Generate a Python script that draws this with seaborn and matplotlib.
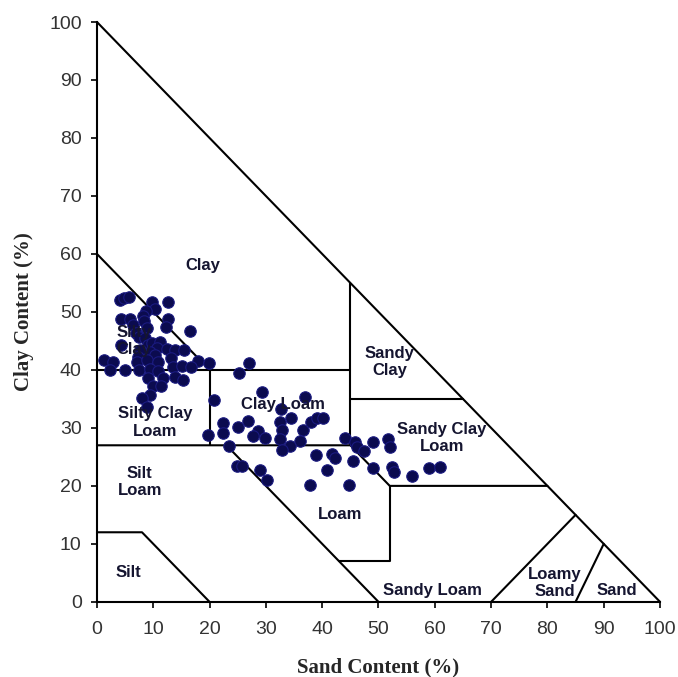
import numpy as np
import pandas as pd
import matplotlib
matplotlib.use("Agg")
import matplotlib.pyplot as plt
import seaborn as sns

# sample points (sand %, clay %)
sand = [4.1, 4.8, 5.7, 9.8, 12.6, 10.3, 8.7, 8.2, 4.3, 5.9, 8.4, 12.6, 6.4, 8.9,
        12.3, 16.5, 6.9, 7.5, 8.5, 4.3, 9.1, 9.8, 11.2, 10.7, 9.4, 7.6, 12.4, 13.9,
        15.5, 7.3, 10.3, 13.1, 1.2, 2.8, 7.1, 8.9, 10.8, 17.9, 19.9, 13.5, 15.1,
        16.7, 2.3, 5.0, 7.5, 9.4, 10.8, 9.1, 11.7, 13.9, 15.3, 10.0, 11.4, 9.4,
        8.0, 20.8, 8.9, 19.7,
        27.0, 25.2, 29.3, 36.9, 32.7, 22.4, 22.4, 25.0, 26.8, 28.6, 27.7, 29.8,
        32.5, 34.5, 32.9, 32.5, 36.6, 38.0, 39.1, 40.1, 36.1, 34.3, 32.9, 23.5,
        24.9, 25.8, 29.0, 30.2, 38.9, 41.7, 42.3, 40.9, 37.8, 44.8, 44.1, 45.8,
        46.2, 47.4, 45.5, 49.0, 51.7, 52.0, 49.0, 52.4, 52.8, 56.0, 59.0, 60.9]
clay = [52.1, 52.4, 52.6, 51.7, 51.7, 50.5, 50.2, 49.3, 48.8, 48.8, 48.4, 48.8, 47.8, 47.2,
        47.4, 46.7, 46.4, 45.7, 45.5, 44.3, 44.3, 44.7, 44.8, 43.8, 43.1, 43.4, 43.6, 43.4,
        43.4, 42.2, 42.6, 42.1, 41.7, 41.4, 41.4, 41.7, 41.4, 41.6, 41.2, 40.5, 40.7,
        40.5, 40.0, 40.0, 40.0, 40.2, 39.8, 38.6, 38.6, 38.8, 38.3, 37.2, 37.2, 35.7,
        35.2, 34.8, 33.6, 28.8,
        41.2, 39.5, 36.2, 35.3, 33.3, 30.9, 29.1, 30.2, 31.2, 29.5, 28.6, 28.3,
        31.0, 31.7, 29.7, 28.1, 29.7, 31.0, 31.7, 31.7, 27.8, 26.9, 26.2, 26.9,
        23.5, 23.5, 22.8, 21.0, 25.3, 25.5, 24.8, 22.8, 20.2, 20.2, 28.3, 27.6,
        26.7, 26.0, 24.3, 27.6, 28.1, 26.7, 23.1, 23.3, 22.4, 21.7, 23.1, 23.3]

# texture class boundaries as (sand, clay) polylines
boundaries = [
    [(0, 100), (100, 0)],
    [(0, 60), (20, 40)],
    [(0, 40), (45, 40)],
    [(45, 55), (45, 27)],
    [(45, 35), (65, 35)],
    [(20, 40), (20, 27)],
    [(0, 27), (45, 27), (52, 20), (80, 20)],
    [(23, 27), (50, 0)],
    [(43, 7), (52, 7), (52, 20)],
    [(0, 12), (8, 12), (20, 0)],
    [(70, 0), (85, 15)],
    [(85, 0), (90, 10)],
]

class_names = ["Clay", "Silty\nClay", "Sandy\nClay", "Silty Clay\nLoam", "Clay Loam",
               "Sandy Clay\nLoam", "Silt\nLoam", "Loam", "Silt", "Sandy Loam",
               "Loamy\nSand", "Sand"]
class_x = [18.8, 6.6, 52.0, 10.3, 33.0, 61.3, 7.6, 43.2, 5.5, 59.5, 81.3, 92.4]
class_y = [58.0, 45.0, 41.4, 30.9, 34.1, 28.3, 20.7, 15.0, 5.0, 2.0, 3.3, 2.0]

df = pd.DataFrame({"Sand": sand, "Clay": clay})

sns.set_style("ticks")
fig = plt.figure(figsize=(6.78, 6.77), dpi=100)
ax = fig.add_axes([0.143, 0.111, 0.8305, 0.8565])

for line in boundaries:
    xs, ys = zip(*line)
    ax.plot(xs, ys, color="black", lw=1.5, clip_on=False, zorder=2)

sns.scatterplot(data=df, x="Sand", y="Clay", ax=ax, s=68, color="#0b0b4f",
                edgecolor="#1a1a80", linewidth=0.8, zorder=3, clip_on=False)

for name, x, y in zip(class_names, class_x, class_y):
    ax.text(x, y, name, ha="center", va="center", fontsize=12,
            family="Liberation Sans", fontweight="bold", color="#151530",
            linespacing=1.2, zorder=4)

ax.set_xlim(0, 100)
ax.set_ylim(0, 100)
ax.set_xticks(np.arange(0, 101, 10))
ax.set_yticks(np.arange(0, 101, 10))
sns.despine(ax=ax)
for side in ["left", "bottom"]:
    ax.spines[side].set_linewidth(1.5)
    ax.spines[side].set_color("black")
ax.tick_params(direction="out", length=4, width=1.2, color="black",
               labelsize=14, labelcolor="#333333", pad=7)
ax.tick_params(axis="x", pad=10)
for lab in ax.get_xticklabels() + ax.get_yticklabels():
    lab.set_family("Liberation Sans")

ax.set_xlabel("Sand Content (%)", family="Liberation Serif", fontweight="bold",
              fontsize=15, labelpad=14)
ax.set_ylabel("Clay Content (%)", family="Liberation Serif", fontweight="bold",
              fontsize=15, labelpad=11)

fig.savefig("out.png", dpi=100)
